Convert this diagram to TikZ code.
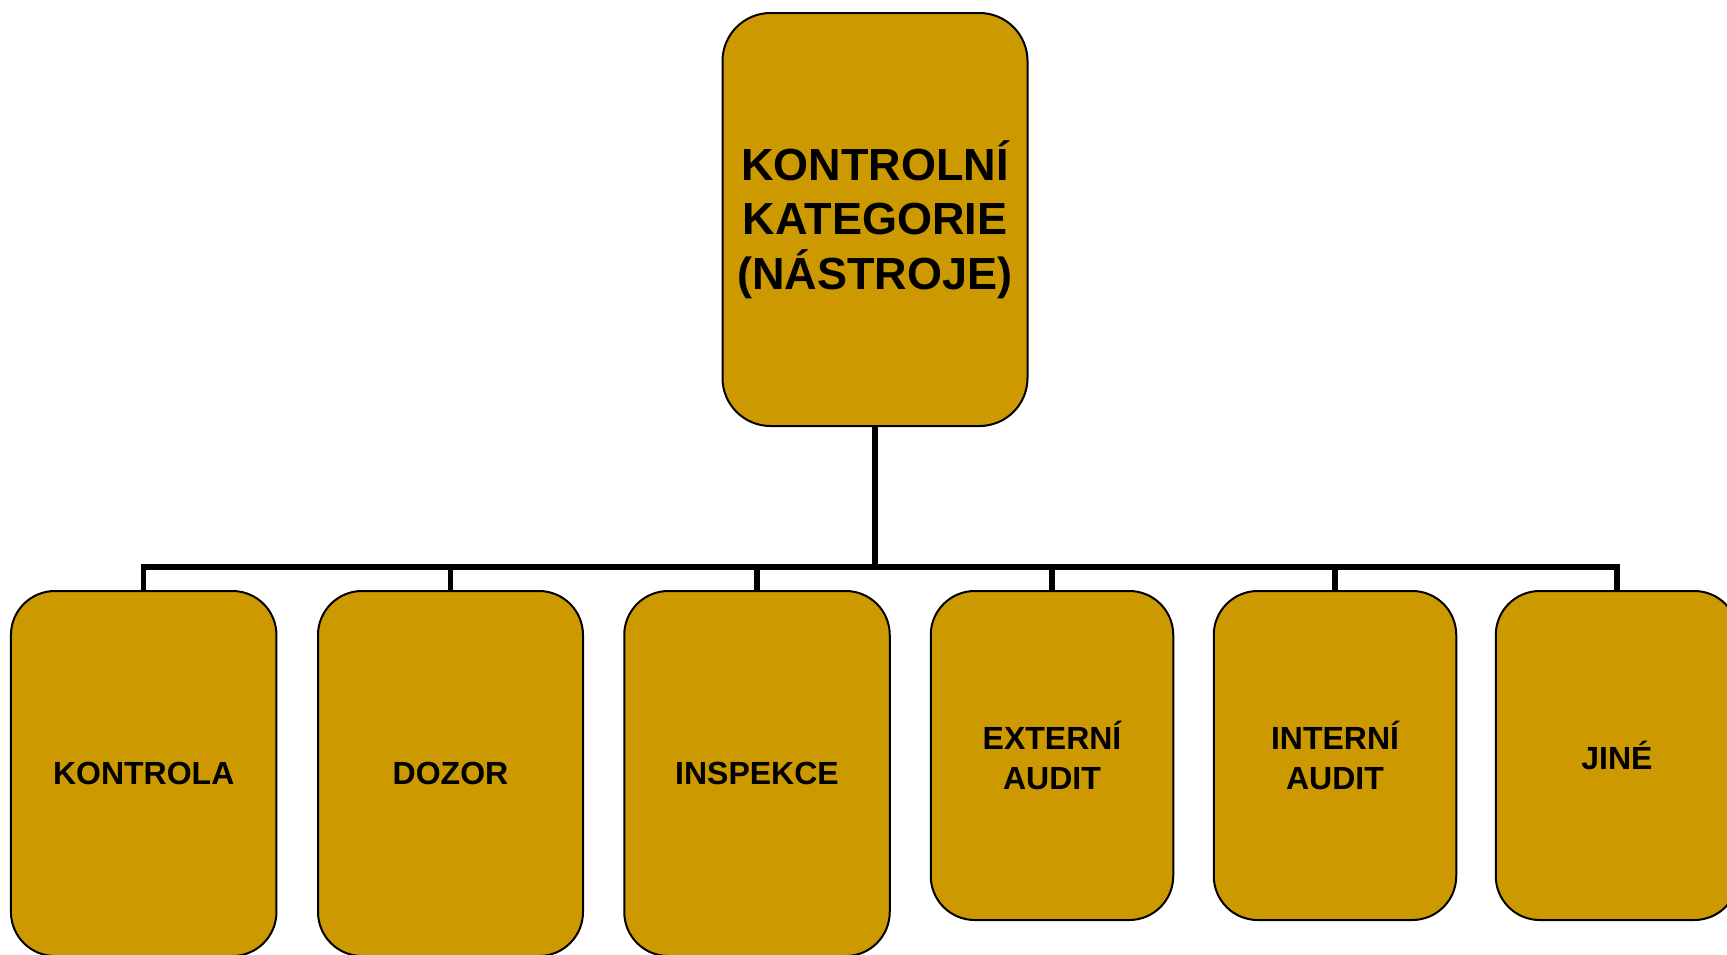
\documentclass[tikz,border=0pt]{standalone}
\usepackage{fontspec}
\setmainfont{Liberation Sans}
\definecolor{gold}{RGB}{204,153,0}
\tikzset{
  box/.style={draw=black, line width=2pt, fill=gold, rounded corners=44pt, align=center, inner sep=0pt, outer sep=0pt, font=\bfseries\fontsize{32}{40}\selectfont},
  topbox/.style={box, rounded corners=48pt, font=\bfseries\fontsize{45}{54.5}\selectfont},
  conn/.style={draw=black, line width=5.5pt},
}
\begin{document}
\begin{tikzpicture}[x=1pt,y=-1pt]
\useasboundingbox (0,0) rectangle (1727,954);
\clip (0,0) rectangle (1727,954);
\fill[white] (0,0) rectangle (1727,954);
\node[topbox, minimum width=305pt, minimum height=413pt] (top) at (875,219.5) {KONTROLNÍ\\KATEGORIE\\(NÁSTROJE)};
\node[box, minimum width=265.5pt, minimum height=365pt] (c1) at (143.7,773.5) {KONTROLA};
\node[box, minimum width=265pt, minimum height=365pt] (c2) at (450.5,773.5) {DOZOR};
\node[box, minimum width=265.5pt, minimum height=365pt] (c3) at (757,773.5) {INSPEKCE};
\node[box, minimum width=242.5pt, minimum height=329pt] (c4) at (1052,755.5) {EXTERNÍ\\AUDIT};
\node[box, minimum width=242.5pt, minimum height=329pt] (c5) at (1335,755.5) {INTERNÍ\\AUDIT};
\node[box, minimum width=242.5pt, minimum height=329pt] (c6) at (1617,755.5) {JINÉ};
\coordinate (j) at (875,567);
\draw[conn] (top.south) -- (j);
\foreach \c in {c1,c2,c3,c4,c5,c6} {
  \draw[conn] (j) -| (\c.north);
}
\end{tikzpicture}
\end{document}
